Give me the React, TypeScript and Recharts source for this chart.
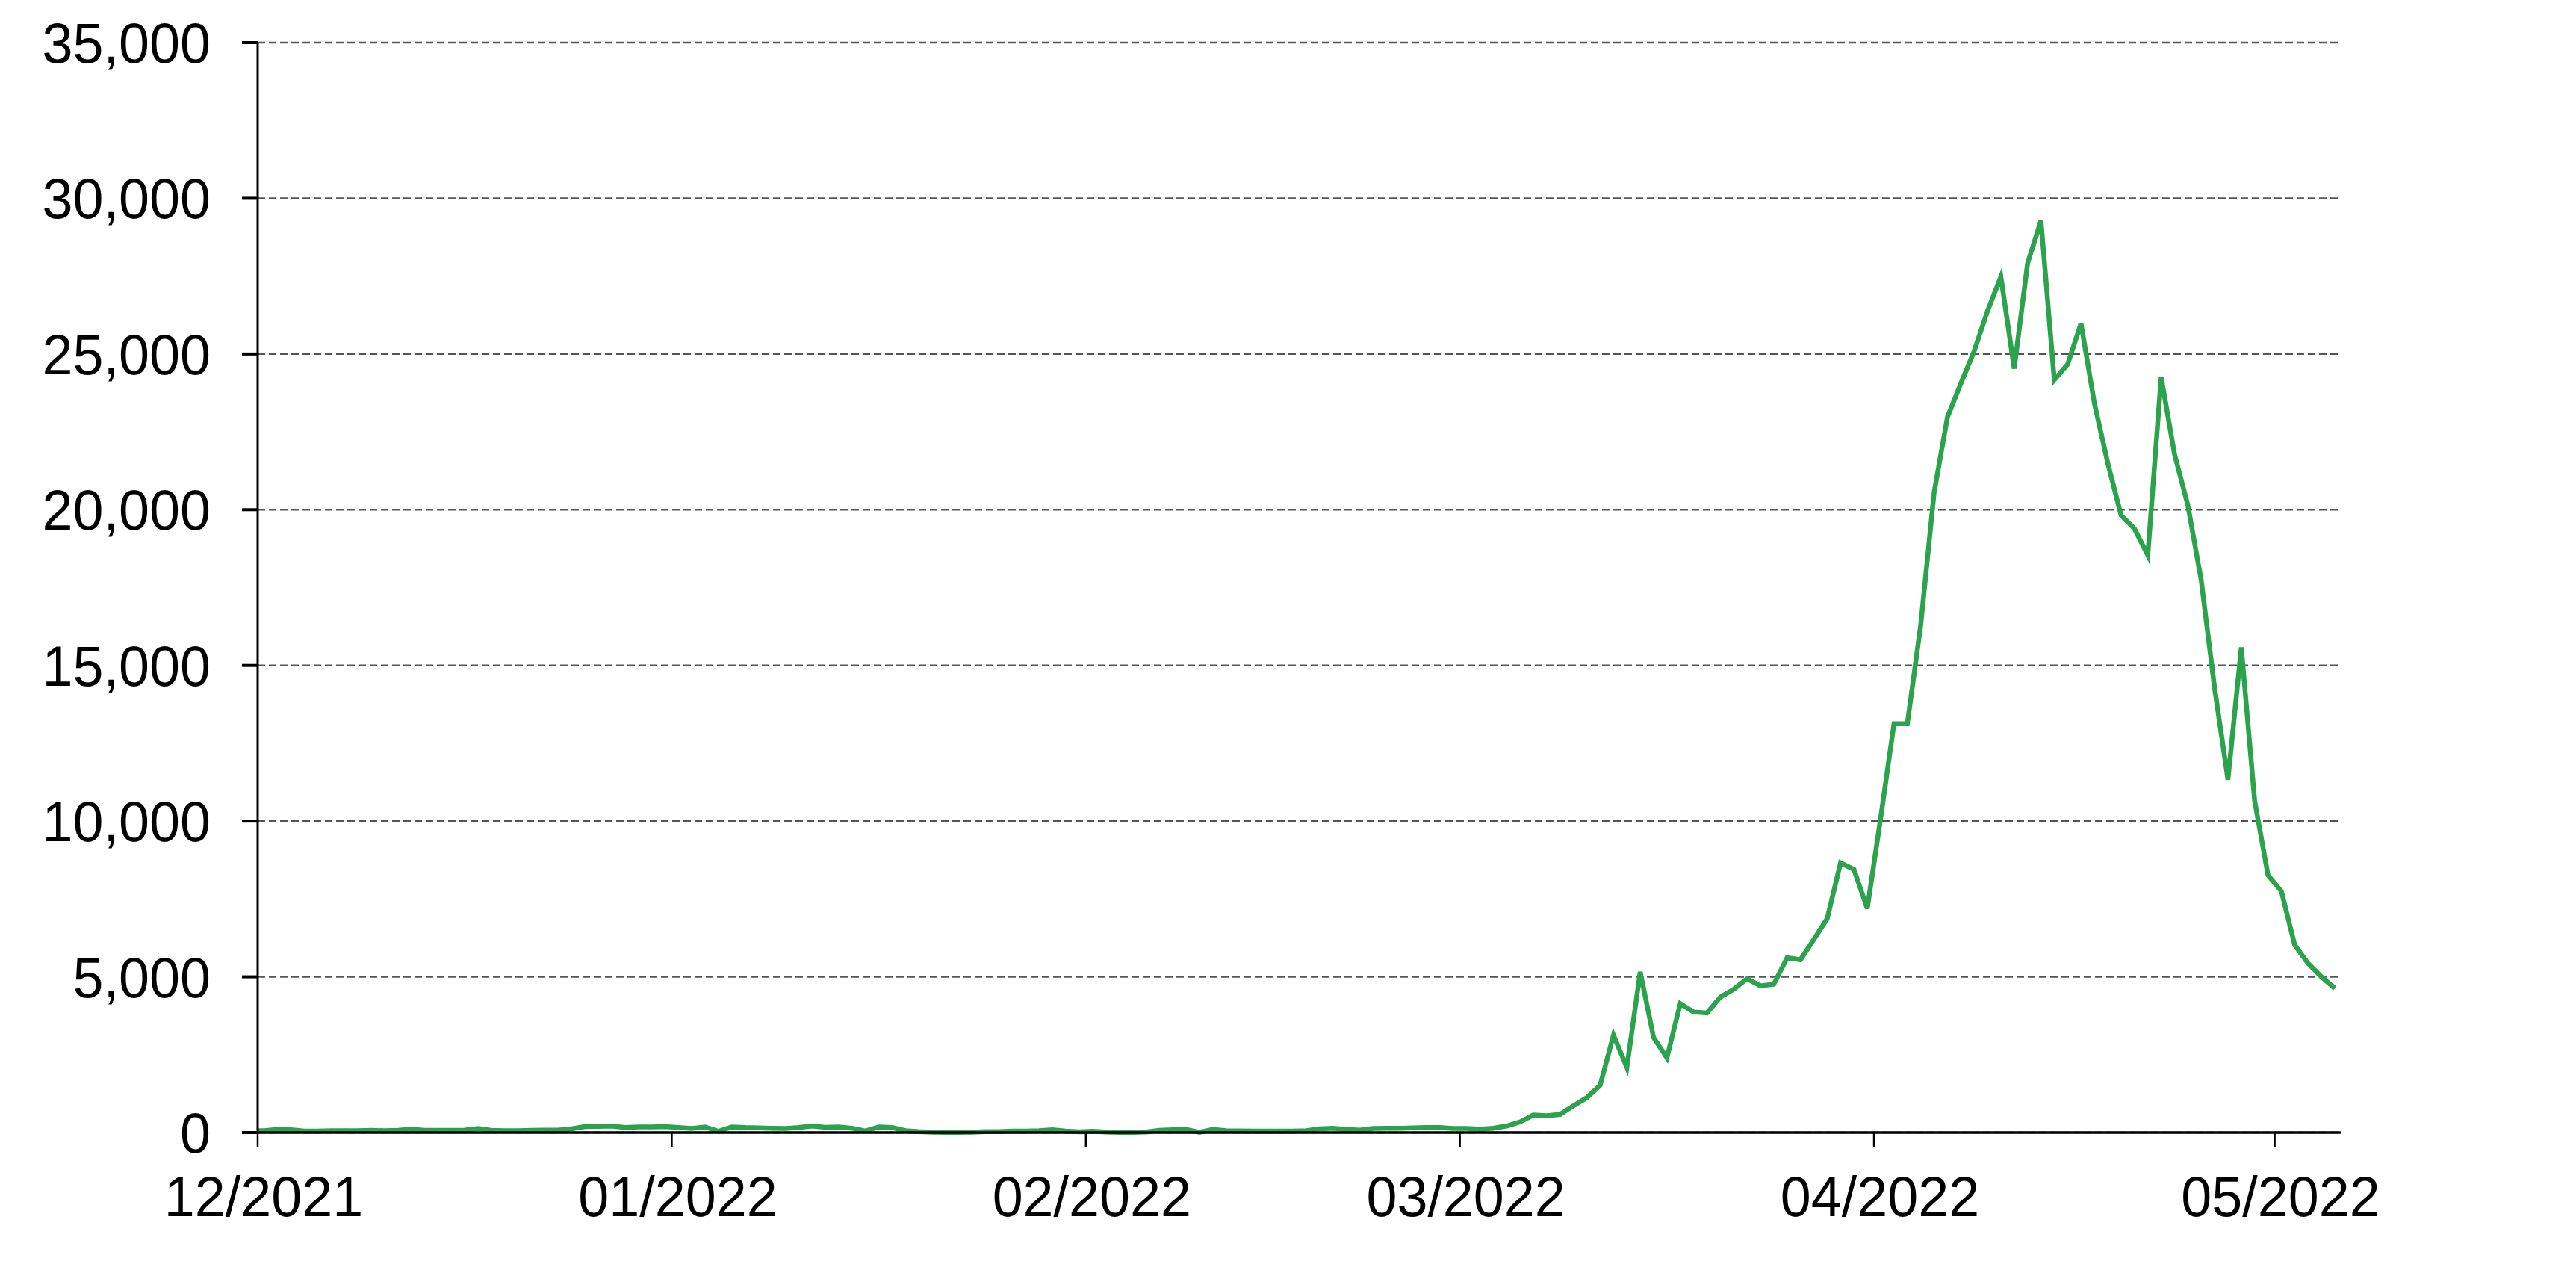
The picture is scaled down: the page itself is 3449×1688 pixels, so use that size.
import React from 'react';
import { LineChart, Line, XAxis, YAxis, CartesianGrid } from 'recharts';

const DAY = 86400000;
const ORIGIN = Date.UTC(2021, 11, 1);
const SERIES_START = Date.UTC(2021, 10, 30);
const AXIS_END = Date.UTC(2022, 4, 6);

const novValues = [60];
const decValues = [60, 100, 90, 50, 50, 60, 60, 60, 70, 60, 70, 110, 70, 70, 70, 80, 130, 70, 60, 60, 70, 80, 80, 120, 190, 200, 210, 160, 180, 180, 190];
const janValues = [160, 130, 180, 40, 180, 160, 150, 140, 130, 160, 210, 170, 180, 140, 50, 180, 160, 60, 30, 10, 5, 5, 10, 30, 30, 50, 50, 60, 90, 50, 25];
const febValues = [40, 20, 5, 5, 20, 70, 90, 100, 10, 100, 60, 55, 50, 50, 50, 50, 60, 120, 140, 100, 80, 130, 135, 140, 150, 160, 160, 130];
const marValues = [130, 110, 140, 210, 340, 560, 540, 580, 860, 1120, 1520, 3130, 2090, 5160, 3050, 2400, 4140, 3870, 3840, 4350, 4600, 4940, 4710, 4760, 5610, 5550, 6200, 6870, 8660, 8450, 7190];
const aprValues = [10100, 13130, 13130, 16300, 20540, 22970, 24050, 25090, 26380, 27480, 24530, 27910, 29280, 24170, 24670, 25980, 23420, 21500, 19820, 19390, 18540, 24260, 21780, 20140, 17730, 14280, 11330, 15580, 10650, 8260];
const mayValues = [7750, 6020, 5430, 5000, 4630];

const tickDates = [
  Date.UTC(2021, 11, 1),
  Date.UTC(2022, 0, 1),
  Date.UTC(2022, 1, 1),
  Date.UTC(2022, 2, 1),
  Date.UTC(2022, 3, 1),
  Date.UTC(2022, 4, 1),
];
const tickLabels = ['12/2021', '01/2022', '02/2022', '03/2022', '04/2022', '05/2022'];
const yTicks = [0, 5000, 10000, 15000, 20000, 25000, 30000, 35000];

const allValues = [...novValues, ...decValues, ...janValues, ...febValues, ...marValues, ...aprValues, ...mayValues];
// each daily value is placed at noon of its day, x measured in days from 1 Dec 2021
const data = allValues.map((v, i) => ({
  t: (SERIES_START + i * DAY + DAY / 2 - ORIGIN) / DAY,
  v,
}));
const tickDays = tickDates.map((d) => (d - ORIGIN) / DAY);
const endDay = (AXIS_END - ORIGIN) / DAY;

const FONT = '"Liberation Sans", Arial, Helvetica, sans-serif';
const FONT_SIZE = 76;
const SCALE_X = 0.97;

const fmtX = (d: number) => {
  const idx = tickDays.indexOf(d);
  return idx >= 0 ? tickLabels[idx] : '';
};
const fmtY = (v: number) => v.toLocaleString('en-US');

const XTick = (props: any) => {
  const { x, y, payload } = props;
  return (
    <g transform={`translate(${x + 8},${y})`}>
      <text
        transform={`scale(${SCALE_X},1)`}
        textAnchor="middle"
        dy={54}
        fontSize={FONT_SIZE}
        fontFamily={FONT}
        fill="#000"
      >
        {fmtX(payload.value)}
      </text>
    </g>
  );
};

const YTick = (props: any) => {
  const { x, y, payload } = props;
  return (
    <g transform={`translate(${x},${y})`}>
      <text
        transform={`scale(${SCALE_X},1)`}
        textAnchor="end"
        dy={27}
        fontSize={FONT_SIZE}
        fontFamily={FONT}
        fill="#000"
      >
        {fmtY(payload.value)}
      </text>
    </g>
  );
};

export default function App() {
  return (
    <div style={{ width: 3430, height: 1670 }}>
      <LineChart
        width={3430}
        height={1670}
        data={data}
        margin={{ top: 49, right: 303, bottom: 32, left: 0 }}
      >
        <CartesianGrid vertical={false} stroke="#555555" strokeWidth={2.5} strokeDasharray="10 5" />
        <XAxis
          type="number"
          dataKey="t"
          domain={[0, endDay]}
          allowDataOverflow
          ticks={tickDays}
          interval={0}
          height={130}
          axisLine={{ stroke: '#000', strokeWidth: 3.5 }}
          tickLine={{ stroke: '#000', strokeWidth: 2.5 }}
          tickSize={20}
          tickMargin={38}
          tick={XTick}
        />
        <YAxis
          type="number"
          domain={[0, 35000]}
          ticks={yTicks}
          interval={0}
          width={337}
          axisLine={{ stroke: '#000', strokeWidth: 3 }}
          tickLine={{ stroke: '#000', strokeWidth: 4 }}
          tickSize={21}
          tickMargin={42}
          tick={YTick}
        />
        <Line
          type="linear"
          dataKey="v"
          stroke="#2ba34d"
          strokeWidth={6.5}
          dot={false}
          activeDot={false}
          isAnimationActive={false}
        />
      </LineChart>
    </div>
  );
}
